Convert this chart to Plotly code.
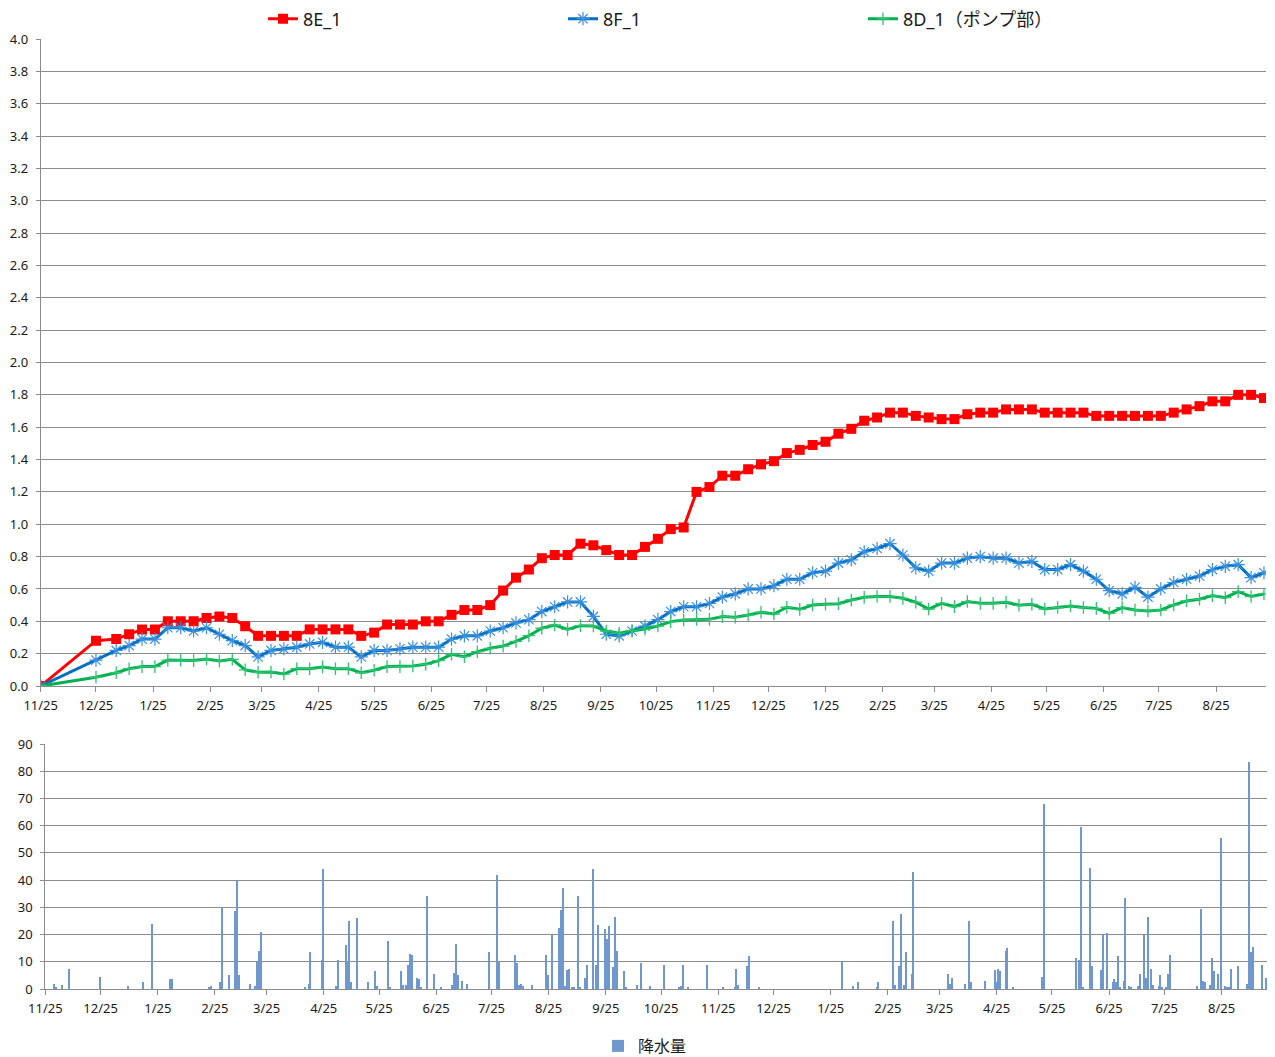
import pandas as pd
import plotly.graph_objects as go

# ---------------- data ----------------
start_date = "2013-11-25"

measure_dates = [
    "2013-11-25", "2013-12-25",
    "2014-01-05", "2014-01-12", "2014-01-19", "2014-01-26", "2014-02-02", "2014-02-09", "2014-02-16", "2014-02-23",
    "2014-03-02", "2014-03-09", "2014-03-16", "2014-03-23", "2014-03-30", "2014-04-06", "2014-04-13", "2014-04-20",
    "2014-04-27", "2014-05-04", "2014-05-11", "2014-05-18", "2014-05-25", "2014-06-01", "2014-06-08", "2014-06-15",
    "2014-06-22", "2014-06-29", "2014-07-06", "2014-07-13", "2014-07-20", "2014-07-27", "2014-08-03", "2014-08-10",
    "2014-08-17", "2014-08-24", "2014-08-31", "2014-09-07", "2014-09-14", "2014-09-21", "2014-09-28", "2014-10-05",
    "2014-10-12", "2014-10-19", "2014-10-26", "2014-11-02", "2014-11-09", "2014-11-16", "2014-11-23", "2014-11-30",
    "2014-12-07", "2014-12-14", "2014-12-21", "2014-12-28", "2015-01-04", "2015-01-11", "2015-01-18", "2015-01-25",
    "2015-02-01", "2015-02-08", "2015-02-15", "2015-02-22", "2015-03-01", "2015-03-08", "2015-03-15", "2015-03-22",
    "2015-03-29", "2015-04-05", "2015-04-12", "2015-04-19", "2015-04-26", "2015-05-03", "2015-05-10", "2015-05-17",
    "2015-05-24", "2015-05-31", "2015-06-07", "2015-06-14", "2015-06-21", "2015-06-28", "2015-07-05", "2015-07-12",
    "2015-07-19", "2015-07-26", "2015-08-02", "2015-08-09", "2015-08-16", "2015-08-23", "2015-08-30", "2015-09-06",
    "2015-09-13", "2015-09-20",
]

s_8E_1 = [
    0.00, 0.28, 0.29, 0.32, 0.35, 0.35, 0.40, 0.40, 0.40, 0.42, 0.43, 0.42, 0.37, 0.31, 0.31, 0.31,
    0.31, 0.35, 0.35, 0.35, 0.35, 0.31, 0.33, 0.38, 0.38, 0.38, 0.40,
    0.40, 0.44, 0.47, 0.47, 0.50, 0.59, 0.67, 0.72, 0.79, 0.81, 0.81, 0.88, 0.87, 0.84, 0.81, 0.81,
    0.86, 0.91, 0.97, 0.98, 1.20, 1.23, 1.30, 1.30, 1.34, 1.37, 1.39, 1.44, 1.46, 1.49, 1.51, 1.56, 1.59,
    1.64, 1.66, 1.69, 1.69, 1.67, 1.66, 1.65, 1.65, 1.68, 1.69, 1.69, 1.71, 1.71, 1.71, 1.69, 1.69,
    1.69, 1.69, 1.67, 1.67, 1.67, 1.67, 1.67, 1.67, 1.69, 1.71, 1.73, 1.76, 1.76, 1.80, 1.80, 1.78,
]

s_8F_1 = [
    0.00, 0.16, 0.22, 0.25, 0.29, 0.29, 0.36, 0.36, 0.34, 0.36, 0.32, 0.28, 0.25, 0.18, 0.22, 0.23,
    0.24, 0.26, 0.27, 0.24, 0.24, 0.18, 0.22, 0.22, 0.23, 0.24, 0.24,
    0.24, 0.29, 0.31, 0.31, 0.34, 0.36, 0.39, 0.41, 0.46, 0.49, 0.52, 0.52, 0.43, 0.32, 0.31, 0.34,
    0.37, 0.41, 0.46, 0.49, 0.49, 0.51, 0.55, 0.57, 0.60, 0.60, 0.62, 0.66, 0.66, 0.70, 0.71, 0.76, 0.78,
    0.83, 0.85, 0.88, 0.81, 0.73, 0.71, 0.76, 0.76, 0.79, 0.80, 0.79, 0.79, 0.76, 0.77, 0.72, 0.72,
    0.75, 0.71, 0.66, 0.59, 0.57, 0.61, 0.55, 0.60, 0.64, 0.66, 0.68, 0.72, 0.74, 0.75, 0.67, 0.70,
]

s_8D_1 = [
    0.000, 0.054, 0.082, 0.107, 0.120, 0.120, 0.160, 0.160, 0.157, 0.167, 0.155, 0.165, 0.100, 0.085,
    0.087, 0.074, 0.107, 0.107, 0.118, 0.107, 0.107, 0.082, 0.097, 0.120, 0.120, 0.124, 0.134,
    0.157, 0.196, 0.181, 0.212, 0.233, 0.247, 0.276, 0.311, 0.357, 0.377, 0.350, 0.373, 0.371, 0.340,
    0.326, 0.342, 0.353, 0.371, 0.398, 0.408, 0.412, 0.412, 0.429, 0.425, 0.439, 0.456, 0.445, 0.487,
    0.474, 0.501, 0.505, 0.509, 0.532,
    0.548, 0.553, 0.553, 0.542, 0.518, 0.476, 0.511, 0.491, 0.522, 0.511, 0.511, 0.518, 0.499, 0.505,
    0.476, 0.485, 0.495, 0.485, 0.480, 0.449, 0.485, 0.470, 0.464, 0.470, 0.501, 0.526, 0.536, 0.559,
    0.546, 0.584, 0.553, 0.569,
]

# daily rainfall: day number counted from start_date, and amount (mm)
rain_day = [
    5, 6, 9, 13, 30, 45, 53, 58, 68, 69, 89, 90, 95, 96, 100, 103, 104, 105, 111, 114, 115, 116, 117,
    141, 143, 144, 150, 151, 158, 159, 163, 164, 165, 166, 169, 175, 179, 180, 186, 187, 193, 194, 196,
    197, 198, 199, 202, 203, 204, 207, 211, 215, 221, 222, 223, 224, 226, 229, 241, 245, 246, 255, 256,
    257, 258, 259, 264, 272, 273, 275, 279, 280, 281, 282, 283, 284, 286, 287, 289, 290, 293, 294, 297,
    299, 300, 304, 305, 306, 308, 309, 310, 314, 315, 321, 323,
    328, 336, 344, 345, 346, 349, 359, 368, 374, 375, 376, 381, 382, 387, 432, 438, 441, 451, 452, 460,
    461, 463, 464, 466, 467, 470, 471, 490, 491, 492, 499, 501, 502, 510, 515, 516, 517, 518, 521, 522,
    525, 541, 542, 559, 561, 562, 563, 567, 568, 573, 574, 576, 579, 580, 581, 582, 583, 585, 586, 588,
    589, 593, 594, 596, 597, 598, 600, 601, 604, 605, 606, 608, 609, 610, 625, 627, 628, 629, 632, 633,
    634, 636, 638, 640, 641, 642, 643, 647, 652, 653, 654, 655, 660, 662,
]
rain_mm = [
    2, 0.5, 1.5, 7.5, 4.4, 1, 2.5, 24, 3.5, 3.5, 0.5, 1, 2.5, 30, 5, 28.5, 39.5, 5, 2, 1, 10, 14, 21,
    0.5, 2, 13.5, 10.5, 44, 1, 10.5, 16, 10, 25, 2.5, 26, 2.5, 6.5, 1, 17.5, 0.5, 6.5, 1.5, 1.5,
    9, 13, 12.5, 4, 3.5, 0.5, 34, 5.5, 0.5, 1.5, 6, 16.5, 5, 3, 2, 13.5, 42, 10, 12.5, 9.5,
    1.5, 2, 1, 1.5, 12.5, 5, 20, 22.5, 29, 37, 1, 7, 7.5, 0.5, 0.5, 34, 0.5, 4, 9, 44,
    9, 23.5, 22, 18.5, 23, 8, 26.5, 14, 6.5, 0.5, 1.5, 9.5,
    1, 9, 0.5, 1, 9, 0.5, 9, 0.5, 0.5, 7.5, 1.5, 8.5, 12, 0.5, 10, 1, 2.5, 0.5, 2.5, 25,
    1.5, 8.5, 27.5, 1.5, 13.5, 5.5, 43, 5.5, 2, 4, 2, 25, 2.5, 3, 7, 2.5, 7.5, 6.5, 14, 15,
    0.5, 4.5, 68, 11.5, 10.5, 59.5, 0.5, 44.5, 8.5, 7, 20, 20.5, 2.5, 3.5, 2.5, 12, 0.5, 3, 33.5, 1,
    0.5, 1, 5.5, 20, 4, 26.5, 7.5, 1.5, 1, 5, 0.5, 0.5, 5.5, 12.5, 1, 29.5, 3, 2.5, 1.5, 11.5,
    6.5, 5.5, 55.5, 1, 0.5, 0.5, 7.5, 8.5, 2, 83.5, 13.5, 15.5, 9, 4,
]

names = ["8E_1", "8F_1", "8D_1（ポンプ部）"]
rain_name = "降水量"

# ---------------- figure ----------------
t0 = pd.Timestamp(start_date)
rain_dates = [t0 + pd.Timedelta(days=d) for d in rain_day]

# the page body has an 8px margin; the figure is sized so it fills the window
OFF = 8
W, H = 1275 - OFF, 1057 - OFF


def fx(px):
    return (px - OFF) / W


def fy(py):
    return 1 - (py - OFF) / H


FONT = "Noto Sans, Noto Sans CJK JP, sans-serif"
GRID = "#8c8c8c"

fig = go.Figure()

fig.add_trace(go.Scatter(
    x=measure_dates, y=s_8E_1, name=names[0], mode="lines+markers",
    line=dict(color="#FF0000", width=3),
    marker=dict(symbol="square", size=10, color="#FF0000"),
    xaxis="x", yaxis="y", legend="legend"))
fig.add_trace(go.Scatter(
    x=measure_dates, y=s_8F_1, name=names[1], mode="lines+markers",
    line=dict(color="#0070C0", width=3),
    marker=dict(symbol="asterisk-open", size=11, color="#3A8FE0", line=dict(width=1.2, color="#3A8FE0")),
    xaxis="x", yaxis="y", legend="legend"))
fig.add_trace(go.Scatter(
    x=measure_dates, y=s_8D_1, name=names[2], mode="lines+markers",
    line=dict(color="#00B050", width=3),
    marker=dict(symbol="cross-thin-open", size=9, color="#2FC46F", line=dict(width=1.3, color="#2FC46F")),
    xaxis="x", yaxis="y", legend="legend"))

fig.add_trace(go.Bar(
    x=rain_dates, y=rain_mm, name=rain_name,
    marker=dict(color="#6F98CF", line=dict(width=0)),
    width=0.55 * 86400000,
    xaxis="x2", yaxis="y2", legend="legend2"))

tickfont = dict(family=FONT, size=13, color="#1a1a1a")
x_common = dict(
    type="date", tick0=start_date, dtick="M1", tickformat="%-m/%-d",
    ticks="outside", ticklen=5, tickcolor=GRID, showline=True, linecolor=GRID,
    linewidth=1, showgrid=False, tickfont=tickfont, zeroline=False,
    ticklabelstandoff=2,
)
y_common = dict(
    ticks="outside", ticklen=4, tickcolor=GRID, showline=True, linecolor=GRID,
    linewidth=1, showgrid=True, gridcolor=GRID, gridwidth=1, tickfont=tickfont,
    zeroline=False, ticklabelstandoff=5,
)

end_top = t0 + pd.Timedelta(days=665.1)
end_bot = t0 + pd.Timedelta(days=663.7)

fig.update_layout(
    width=W, height=H,
    margin=dict(l=0, r=0, t=0, b=0, autoexpand=False),
    paper_bgcolor="white", plot_bgcolor="white",
    font=dict(family=FONT, color="#1a1a1a"),
    bargap=0,
    xaxis=dict(domain=[fx(40.7), fx(1266)], range=[t0, end_top], anchor="y", **x_common),
    yaxis=dict(domain=[fy(686), fy(39)], range=[0, 4], dtick=0.2, tickformat=".1f",
               anchor="x", **y_common),
    xaxis2=dict(domain=[fx(45.3), fx(1269)], range=[t0, end_bot], anchor="y2", **x_common),
    yaxis2=dict(domain=[fy(989), fy(744)], range=[0, 90], dtick=10, anchor="x2", **y_common),
    legend=dict(orientation="h", x=fx(263), y=fy(19), xanchor="left", yanchor="middle",
                entrywidth=255, entrywidthmode="pixels",
                font=dict(family=FONT, size=18, color="#1a1a1a"), bgcolor="rgba(0,0,0,0)"),
    legend2=dict(orientation="h", x=fx(598), y=fy(1046), xanchor="left", yanchor="middle",
                 font=dict(family=FONT, size=16, color="#1a1a1a"), bgcolor="rgba(0,0,0,0)"),
)

fig.write_html("out.html")
